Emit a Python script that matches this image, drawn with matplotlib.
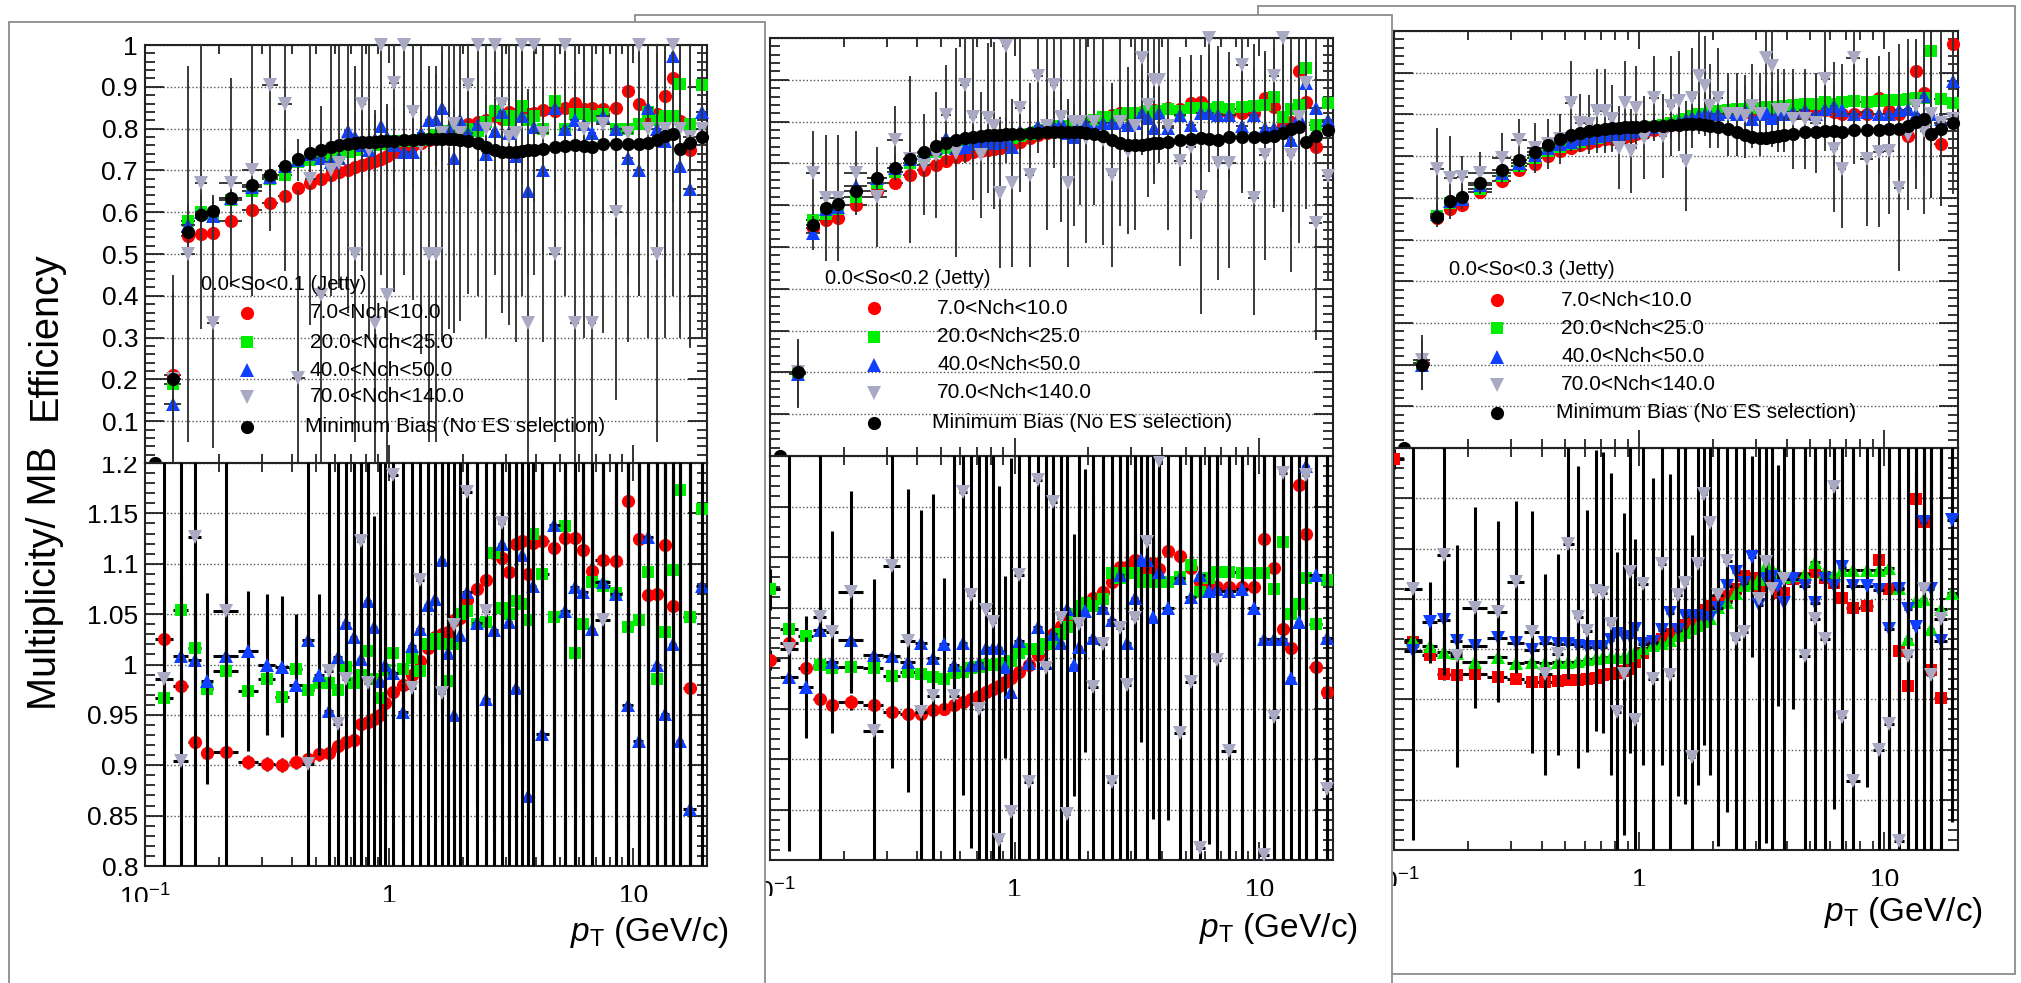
import numpy as np
import matplotlib
matplotlib.use("Agg")
import matplotlib.pyplot as plt
from matplotlib.patches import Rectangle
from matplotlib.ticker import FixedLocator, NullFormatter, FixedFormatter, MultipleLocator, FuncFormatter

plt.rcParams['font.family'] = ['Liberation Sans', 'DejaVu Sans']
plt.rcParams['mathtext.fontset'] = 'custom'
plt.rcParams['mathtext.rm'] = 'Liberation Sans'
plt.rcParams['mathtext.it'] = 'Liberation Sans:italic'
plt.rcParams['mathtext.bf'] = 'Liberation Sans:bold'

nan = float('nan')

# ---------------------------------------------------------------- data
PT_EDGES = [0.1, 0.12, 0.14, 0.16, 0.18, 0.2, 0.25, 0.3, 0.35, 0.4, 0.45, 0.5, 0.55, 0.6, 0.65,
            0.7, 0.75, 0.8, 0.85, 0.9, 0.95, 1.0, 1.1, 1.2, 1.3, 1.4, 1.5, 1.6, 1.7, 1.8, 1.9,
            2.0, 2.2, 2.4, 2.6, 2.8, 3.0, 3.2, 3.4, 3.6, 3.8, 4.0, 4.5, 5.0, 5.5, 6.0, 6.5,
            7.0, 8.0, 9.0, 10.0, 11.0, 12.0, 13.0, 14.0, 15.0, 16.0, 18.0, 20.0]
RATIO_PT_SHIFT = 0.01

SO_LABELS = ["0.0<So<0.1 (Jetty)", "0.0<So<0.2 (Jetty)", "0.0<So<0.3 (Jetty)"]
NCH_LABELS = ["7.0<Nch<10.0", "20.0<Nch<25.0", "40.0<Nch<50.0", "70.0<Nch<140.0",
              "Minimum Bias (No ES selection)"]
X_TICKS = [0.1, 1, 10]
X_TICK_LABELS = [r"$10^{-1}$", "1", "10"]
X_MINOR = [0.2, 0.3, 0.4, 0.5, 0.6, 0.7, 0.8, 0.9, 2, 3, 4, 5, 6, 7, 8, 9]
X_TITLE = r"$p_{\mathrm{T}}$ (GeV/c)"
Y_TITLE_TOP = "Efficiency"
Y_TITLE_BOT = "Multiplicity/ MB"

MB_EFF = [
    0.0, 0.20, 0.553, 0.593, 0.602, 0.635, 0.666, 0.69, 0.711, 0.727,
    0.742, 0.75, 0.756, 0.76, 0.763, 0.766, 0.767, 0.768, 0.769, 0.77,
    0.77, 0.771, 0.772, 0.773, 0.774, 0.775, 0.776, 0.776, 0.776, 0.775,
    0.773, 0.77, 0.765, 0.757, 0.75, 0.745, 0.743, 0.744, 0.746, 0.748,
    0.75, 0.752, 0.757, 0.758, 0.76, 0.759, 0.757, 0.762, 0.762, 0.763,
    0.764, 0.766, 0.773, 0.782, 0.788, 0.752, 0.766, 0.78]
MB_EFF_ERR = [
    0.0, 0.06, 0.01, 0.008, 0.006, 0.005, 0.004, 0.004, 0.004, 0.004,
    0.003, 0.003, 0.003, 0.003, 0.003, 0.003, 0.003, 0.003, 0.003, 0.003,
    0.003, 0.003, 0.003, 0.003, 0.003, 0.003, 0.003, 0.003, 0.003, 0.003,
    0.003, 0.003, 0.003, 0.004, 0.004, 0.004, 0.004, 0.004, 0.004, 0.005,
    0.005, 0.005, 0.006, 0.006, 0.007, 0.007, 0.008, 0.008, 0.009, 0.01,
    0.011, 0.012, 0.013, 0.014, 0.015, 0.016, 0.018, 0.02]

# ---- panel 1 : 0.0<So<0.1
EFF1_R = [
    nan, 0.21, 0.542, 0.548, 0.55, 0.578, 0.605, 0.622, 0.638, 0.657,
    0.67, 0.68, 0.688, 0.695, 0.70, 0.707, 0.712, 0.717, 0.722, 0.728,
    0.735, 0.745, 0.752, 0.76, 0.766, 0.772, 0.778, 0.785, 0.79, 0.795,
    0.80, 0.81, 0.815, 0.82, 0.83, 0.822, 0.84, 0.835, 0.838, 0.835,
    0.838, 0.845, 0.843, 0.85, 0.862, 0.846, 0.85, 0.846, 0.85, 0.89,
    0.858, 0.818, 0.834, 0.878, 0.922, 0.818, 0.75, nan]
EFF1_G = [
    nan, 0.19, 0.58, 0.60, 0.59, 0.63, 0.65, 0.68, 0.69, 0.72,
    0.725, 0.73, 0.735, 0.74, 0.745, 0.75, 0.755, 0.76, 0.76, 0.762,
    0.765, 0.77, 0.77, 0.77, 0.772, 0.775, 0.785, 0.79, 0.795, 0.80,
    0.80, 0.80, 0.795, 0.815, 0.843, 0.83, 0.82, 0.83, 0.855, 0.82,
    0.83, 0.80, 0.866, 0.80, 0.835, 0.835, 0.83, 0.835, 0.80, 0.80,
    0.81, 0.84, 0.82, 0.83, 0.83, 0.907, 0.81, 0.905]
EFF1_B = [
    nan, 0.142, 0.57, 0.60, 0.59, 0.635, 0.66, 0.685, 0.71, 0.725,
    0.74, 0.73, 0.72, 0.73, 0.795, 0.78, 0.76, 0.75, 0.775, 0.806,
    0.78, 0.76, 0.745, 0.745, 0.79, 0.82, 0.82, 0.85, 0.80, 0.73,
    0.82, 0.79, 0.81, 0.74, 0.795, 0.84, 0.79, 0.735, 0.83, 0.65,
    0.805, 0.70, 0.85, 0.80, 0.82, 0.81, 0.79, 0.83, 0.80, 0.73,
    0.70, 0.85, 0.80, 0.77, 0.974, 0.71, 0.655, 0.84]
EFF1_Y = [
    nan, 0.20, 0.50, 0.67, 0.335, 0.67, 0.70, 0.905, 0.86, 0.203,
    0.68, 0.403, 0.70, 0.718, 0.76, 0.50, 0.86, 0.75, 0.335, 1.0,
    0.403, 0.91, 1.0, 0.84, 0.76, 0.50, 0.50, 0.79, 0.77, 0.81,
    0.79, 0.904, 1.0, 0.80, 1.0, 0.86, 0.78, 0.79, 1.0, 0.335,
    1.0, 0.79, 0.50, 1.0, 0.335, 0.80, 0.335, 0.81, 0.60, 0.79,
    1.0, 0.80, 0.50, 0.80, 1.0, 0.80, 0.78, 0.80]
EFF1_R_ERR = [
    0, 0.2, 0.03, 0.02, 0.02, 0.02, 0.015, 0.015, 0.015, 0.015,
    0.015, 0.015, 0.015, 0.015, 0.02, 0.02, 0.02, 0.02, 0.02, 0.02,
    0.02, 0.02, 0.02, 0.025, 0.025, 0.025, 0.03, 0.03, 0.03, 0.03,
    0.03, 0.03, 0.035, 0.035, 0.04, 0.04, 0.04, 0.045, 0.05, 0.05,
    0.05, 0.05, 0.06, 0.06, 0.07, 0.07, 0.08, 0.08, 0.09, 0.1,
    0.1, 0.12, 0.12, 0.14, 0.15, 0.15, 0.18, 0]
EFF1_G_ERR = [
    0, 0.05, 0.03, 0.03, 0.03, 0.025, 0.025, 0.02, 0.02, 0.02,
    0.02, 0.02, 0.02, 0.025, 0.025, 0.025, 0.03, 0.03, 0.03, 0.03,
    0.03, 0.03, 0.035, 0.035, 0.04, 0.04, 0.04, 0.045, 0.045, 0.05,
    0.05, 0.05, 0.055, 0.06, 0.06, 0.06, 0.065, 0.07, 0.07, 0.075,
    0.08, 0.08, 0.09, 0.09, 0.1, 0.1, 0.11, 0.12, 0.12, 0.13,
    0.14, 0.15, 0.16, 0.17, 0.18, 0.2, 0.2, 0.22]
EFF1_B_ERR = [
    0, 0.1, 0.05, 0.04, 0.05, 0.04, 0.04, 0.05, 0.04, 0.05,
    0.05, 0.06, 0.05, 0.06, 0.07, 0.06, 0.08, 0.07, 0.07, 0.09,
    0.08, 0.09, 0.1, 0.09, 0.1, 0.12, 0.11, 0.13, 0.12, 0.12,
    0.14, 0.13, 0.15, 0.14, 0.14, 0.16, 0.15, 0.18, 0.16, 0.2,
    0.18, 0.2, 0.2, 0.22, 0.22, 0.24, 0.24, 0.25, 0.26, 0.28,
    0.3, 0.3, 0.32, 0.33, 0.35, 0.35, 0.38, 0.4]
EFF1_Y_ERR = [
    0, 0.25, 0.45, 0.35, 0.30, 0.25, 0.30, 0.35, 0.40, 0.45,
    0.35, 0.45, 0.30, 0.30, 0.40, 0.45, 0.40, 0.45, 0.50, 0.55,
    0.45, 0.50, 0.55, 0.45, 0.50, 0.45, 0.45, 0.50, 0.45, 0.50,
    0.45, 0.50, 0.60, 0.50, 0.55, 0.50, 0.45, 0.50, 0.60, 0.45,
    0.55, 0.50, 0.45, 0.60, 0.45, 0.50, 0.45, 0.50, 0.45, 0.50,
    0.60, 0.50, 0.45, 0.50, 0.60, 0.50, 0.50, 0.50]
RAT1_R = [
    nan, 1.025, 0.979, 0.923, 0.912, 0.913, 0.903, 0.901, 0.90, 0.903,
    0.906, 0.911, 0.912, 0.919, 0.923, 0.925, 0.941, 0.943, 0.946, 0.95,
    0.962, 0.973, 0.98, 0.99, 1.003, 1.016, 1.027, 1.03, 1.032, 1.044,
    1.046, 1.064, 1.075, 1.084, 1.111, 1.106, 1.092, 1.12, 1.123, 1.09,
    1.121, 1.123, 1.116, 1.126, 1.126, 1.114, 1.093, 1.104, 1.103, 1.162,
    1.125, 1.069, 1.07, 1.119, 1.058, nan, 0.977, nan]
RAT1_G = [
    nan, 0.967, 1.054, 1.016, 0.976, 0.994, 0.974, 0.986, 0.968, 0.996,
    0.975, 0.982, 0.982, 0.975, 0.998, 0.982, 0.99, 1.013, 0.986, 0.967,
    0.995, 1.011, 0.996, 1.006, 0.994, 1.02, 1.025, 1.02, 0.984, 1.02,
    1.05, 1.053, 1.04, 1.042, 1.111, 1.056, 1.05, 1.063, 1.06, 1.044,
    1.13, 1.09, 1.047, 1.137, 1.011, 1.04, 1.082, 1.078, 1.071, 1.037,
    1.044, 1.092, 0.986, 1.032, 1.094, 1.173, 1.047, 1.154]
RAT1_B = [
    nan, 0.72, 1.008, 1.004, 0.984, 1.008, 1.013, 1.0, 0.998, 0.98,
    1.024, 0.99, 0.954, 1.007, 1.041, 1.027, 1.005, 1.063, 1.037, 0.984,
    1.0, 0.992, 0.953, 1.018, 1.035, 1.059, 1.065, 1.104, 1.011, 0.95,
    1.029, 1.072, 1.041, 0.966, 1.034, 1.12, 1.042, 0.977, 1.109, 0.869,
    1.078, 0.931, 1.138, 1.053, 1.077, 1.072, 1.035, 1.082, 1.07, 0.96,
    0.924, 1.127, 1.0, 0.951, 1.02, 0.924, 0.857, 1.078]
RAT1_Y = [
    nan, 0.986, 0.904, 1.127, 1.3, 1.053, 1.35, 1.35, 1.3, 0.7,
    0.901, 0.6, 0.994, 0.941, 0.986, 0.7, 1.123, 0.982, 0.5, 1.3,
    0.6, 1.188, 1.3, 0.977, 1.084, 0.7, 0.7, 0.972, 0.75, 1.039,
    1.25, 1.171, 1.3, 1.053, 1.3, 1.14, 1.3, 0.7, 1.3, 0.45,
    1.3, 0.7, 0.66, 1.3, 0.45, 0.7, 0.45, 1.044, 0.78, 0.7,
    1.3, 0.7, 0.65, 1.3, 0.7, 0.7, 0.7, 0.7]
RAT1_R_ERR = [
    0, 0.04, 0.012, 0.01, 0.008, 0.008, 0.007, 0.007, 0.007, 0.007,
    0.007, 0.007, 0.007, 0.008, 0.008, 0.008, 0.008, 0.009, 0.009, 0.009,
    0.01, 0.01, 0.01, 0.011, 0.011, 0.012, 0.012, 0.013, 0.013, 0.014,
    0.015, 0.015, 0.016, 0.018, 0.02, 0.02, 0.022, 0.024, 0.025, 0.027,
    0.03, 0.032, 0.035, 0.04, 0.045, 0.05, 0.055, 0.06, 0.07, 0.08,
    0.09, 0.1, 0.11, 0.12, 0.13, 0, 0.15, 0]
RAT1_G_ERR = [
    0, 0.05, 0.035, 0.03, 0.095, 0.03, 0.06, 0.055, 0.035, 0.05,
    0.03, 0.06, 0.03, 0.035, 0.035, 0.04, 0.04, 0.045, 0.045, 0.05,
    0.05, 0.05, 0.055, 0.055, 0.06, 0.06, 0.065, 0.065, 0.07, 0.07,
    0.075, 0.08, 0.08, 0.085, 0.09, 0.09, 0.1, 0.1, 0.11, 0.11,
    0.12, 0.12, 0.13, 0.14, 0.15, 0.16, 0.17, 0.18, 0.19, 0.2,
    0.22, 0.24, 0.25, 0.27, 0.3, 0.3, 0.32, 0.35]
RAT1_B_ERR = [
    0, 0.1, 0.06, 0.06, 0.06, 0.06, 0.06, 0.07, 0.07, 0.07,
    0.08, 0.08, 0.08, 0.09, 0.09, 0.1, 0.1, 0.1, 0.11, 0.11,
    0.12, 0.12, 0.13, 0.13, 0.14, 0.14, 0.15, 0.15, 0.16, 0.16,
    0.17, 0.18, 0.18, 0.19, 0.2, 0.2, 0.21, 0.22, 0.23, 0.24,
    0.25, 0.26, 0.27, 0.28, 0.3, 0.3, 0.32, 0.33, 0.35, 0.36,
    0.38, 0.4, 0.4, 0.42, 0.45, 0.45, 0.48, 0.5]
RAT1_Y_ERR = [
    0, 0.5, 0.5, 0.5, 0.05, 0.4, 0.1, 0.1, 0.05, 0.05,
    0.5, 0.1, 0.5, 0.5, 0.5, 0.5, 0.5, 0.5, 0.6, 0.5,
    0.6, 0.5, 0.5, 0.5, 0.5, 0.6, 0.6, 0.5, 0.6, 0.5,
    0.6, 0.5, 0.6, 0.5, 0.6, 0.5, 0.6, 0.6, 0.6, 0.8,
    0.6, 0.6, 0.6, 0.6, 0.8, 0.6, 0.8, 0.5, 0.6, 0.6,
    0.6, 0.6, 0.6, 0.6, 0.6, 0.6, 0.6, 0.6]

# ---- panel 2 : 0.0<So<0.2
EFF2_R = [
    nan, 0.20, 0.545, 0.565, 0.57, 0.60, 0.633, 0.653, 0.673, 0.685,
    0.697, 0.705, 0.715, 0.72, 0.727, 0.73, 0.733, 0.735, 0.737, 0.74,
    0.745, 0.752, 0.76, 0.767, 0.772, 0.778, 0.784, 0.788, 0.792, 0.796,
    0.80, 0.805, 0.812, 0.816, 0.82, 0.818, 0.82, 0.824, 0.822, 0.828,
    0.826, 0.832, 0.83, 0.844, 0.848, 0.83, 0.822, 0.818, 0.82, 0.82,
    0.856, 0.836, 0.792, 0.80, 0.92, 0.848, 0.74, nan]
EFF2_G = [
    nan, 0.20, 0.565, 0.58, 0.59, 0.62, 0.653, 0.68, 0.70, 0.717,
    0.728, 0.737, 0.74, 0.745, 0.748, 0.75, 0.752, 0.754, 0.756, 0.758,
    0.76, 0.765, 0.77, 0.775, 0.78, 0.785, 0.79, 0.79, 0.795, 0.80,
    0.80, 0.805, 0.81, 0.81, 0.815, 0.82, 0.82, 0.815, 0.825, 0.82,
    0.825, 0.83, 0.825, 0.832, 0.832, 0.83, 0.835, 0.83, 0.835, 0.838,
    0.84, 0.86, 0.812, 0.83, 0.84, 0.928, 0.792, 0.844]
EFF2_B = [
    nan, 0.195, 0.533, 0.59, 0.595, 0.645, 0.665, 0.69, 0.71, 0.726,
    0.737, 0.76, 0.737, 0.74, 0.746, 0.752, 0.756, 0.748, 0.752, 0.756,
    0.74, 0.777, 0.777, 0.79, 0.794, 0.786, 0.80, 0.772, 0.764, 0.792,
    0.794, 0.788, 0.796, 0.796, 0.80, 0.792, 0.796, 0.82, 0.808, 0.784,
    0.82, 0.784, 0.816, 0.792, 0.82, 0.82, 0.816, 0.816, 0.79, 0.816,
    0.784, 0.784, 0.784, 0.757, 0.81, 0.892, 0.832, 0.804]
EFF2_Y = [
    nan, 0.20, 0.677, 0.617, 0.617, 0.677, 0.62, 0.757, 0.71, 0.697,
    0.72, 0.816, 0.725, 0.888, 0.812, 0.72, 0.808, 0.79, 0.63, 0.98,
    0.653, 0.832, 0.673, 0.908, 0.79, 0.888, 0.81, 0.653, 0.80, 0.80,
    0.76, 0.80, 0.755, 0.673, 0.80, 0.73, 0.79, 0.952, 0.84, 0.90,
    0.90, 0.79, 0.705, 0.74, 0.62, 1.0, 0.70, 0.70, 0.936, 0.617,
    0.72, 0.908, 1.0, 0.72, 0.81, 0.892, 0.557, 0.669]
EFF2_R_ERR = [
    0, 0.06, 0.02, 0.015, 0.015, 0.012, 0.012, 0.01, 0.01, 0.01,
    0.01, 0.01, 0.01, 0.01, 0.01, 0.01, 0.012, 0.012, 0.012, 0.012,
    0.012, 0.013, 0.013, 0.014, 0.014, 0.015, 0.015, 0.016, 0.016, 0.017,
    0.018, 0.018, 0.02, 0.02, 0.022, 0.022, 0.024, 0.025, 0.026, 0.028,
    0.03, 0.032, 0.035, 0.038, 0.04, 0.045, 0.05, 0.05, 0.055, 0.06,
    0.065, 0.07, 0.075, 0.08, 0.09, 0.1, 0.1, 0]
EFF2_G_ERR = [
    0, 0.06, 0.025, 0.02, 0.02, 0.015, 0.015, 0.015, 0.015, 0.015,
    0.015, 0.015, 0.015, 0.016, 0.016, 0.017, 0.017, 0.018, 0.018, 0.019,
    0.02, 0.02, 0.021, 0.022, 0.023, 0.024, 0.025, 0.026, 0.027, 0.028,
    0.03, 0.03, 0.032, 0.034, 0.036, 0.038, 0.04, 0.042, 0.044, 0.046,
    0.05, 0.052, 0.055, 0.06, 0.065, 0.07, 0.075, 0.08, 0.085, 0.09,
    0.1, 0.1, 0.11, 0.12, 0.13, 0.14, 0.15, 0.16]
EFF2_B_ERR = [
    0, 0.08, 0.04, 0.03, 0.03, 0.03, 0.03, 0.03, 0.03, 0.03,
    0.035, 0.035, 0.04, 0.04, 0.045, 0.045, 0.05, 0.05, 0.055, 0.055,
    0.06, 0.06, 0.065, 0.065, 0.07, 0.07, 0.075, 0.075, 0.08, 0.08,
    0.085, 0.085, 0.09, 0.09, 0.095, 0.095, 0.1, 0.1, 0.11, 0.11,
    0.12, 0.12, 0.13, 0.13, 0.14, 0.14, 0.15, 0.15, 0.16, 0.17,
    0.18, 0.19, 0.2, 0.21, 0.22, 0.23, 0.24, 0.25]
EFF2_Y_ERR = [
    0, 0.08, 0.1, 0.15, 0.15, 0.1, 0.12, 0.08, 0.2, 0.12,
    0.15, 0.12, 0.25, 0.12, 0.2, 0.15, 0.18, 0.2, 0.18, 0.25,
    0.2, 0.2, 0.22, 0.15, 0.25, 0.2, 0.25, 0.2, 0.25, 0.2,
    0.25, 0.2, 0.25, 0.22, 0.25, 0.2, 0.25, 0.2, 0.22, 0.25,
    0.2, 0.25, 0.25, 0.22, 0.28, 0.3, 0.28, 0.25, 0.3, 0.28,
    0.25, 0.3, 0.3, 0.28, 0.3, 0.3, 0.28, 0.25]
RAT2_R = [
    0.998, 1.015, 0.99, 0.959, 0.953, 0.956, 0.953, 0.947, 0.945, 0.945,
    0.949, 0.95, 0.953, 0.956, 0.959, 0.962, 0.966, 0.969, 0.972, 0.976,
    0.98, 0.986, 0.993, 1.003, 1.014, 1.024, 1.032, 1.039, 1.043, 1.048,
    1.052, 1.059, 1.065, 1.075, 1.09, 1.09, 1.097, 1.079, 1.088, 1.094,
    1.088, 1.106, 1.101, 1.089, 1.075, 1.074, 1.07, 1.07, 1.07, 1.07,
    1.118, 1.089, 1.029, 1.01, 1.171, 1.123, 0.991, 0.966]
RAT2_G = [
    1.068, 1.029, 1.022, 0.993, 0.99, 0.991, 0.99, 0.982, 0.986, 0.984,
    0.981, 0.979, 0.985, 0.986, 0.99, 0.991, 0.993, 0.993, 0.994, 0.995,
    0.997, 1.005, 1.009, 1.009, 1.014, 1.017, 1.024, 1.031, 1.044, 1.051,
    1.054, 1.051, 1.058, 1.084, 1.079, 1.084, 1.084, 1.075, 1.077, 1.075,
    1.075, 1.075, 1.08, 1.092, 1.065, 1.079, 1.085, 1.085, 1.084, 1.084,
    1.084, 1.068, 1.115, 1.044, 1.053, 1.079, 1.034, 1.077]
RAT2_B = [
    nan, 0.981, 0.971, 1.028, 0.996, 1.018, 1.003, 1.002, 0.996, 1.015,
    1.0, 1.014, 0.993, 1.015, 0.993, 0.995, 1.01, 1.01, 1.01, 0.991,
    0.966, 1.017, 0.995, 1.031, 0.995, 1.024, 1.015, 1.049, 0.993, 1.011,
    1.047, 1.02, 1.05, 1.038, 1.082, 1.015, 1.059, 1.097, 1.097, 1.041,
    1.085, 1.05, 1.079, 1.06, 1.082, 1.066, 1.068, 1.066, 1.068, 1.05,
    1.019, 1.019, 1.019, 0.98, 1.036, 1.19, 1.082, 1.02]
RAT2_Y = [
    nan, 1.009, 0.7, 1.041, 1.026, 1.065, 0.928, 1.091, 1.017, 0.947,
    0.962, 0.7, 0.962, 1.164, 1.062, 0.95, 1.048, 1.036, 0.82, 0.7,
    0.848, 1.082, 0.877, 1.176, 0.99, 1.154, 1.04, 0.846, 1.3, 1.034,
    1.3, 0.971, 1.014, 0.877, 1.03, 0.973, 1.04, 1.3, 1.115, 1.3,
    1.195, 0.7, 0.926, 0.976, 0.812, 1.3, 0.998, 0.908, 1.3, 0.7,
    0.805, 0.942, 1.183, 0.7, 1.3, 1.181, 0.7, 0.87]
RAT2_R_ERR = [
    0.01, 0.03, 0.01, 0.008, 0.007, 0.007, 0.006, 0.006, 0.006, 0.006,
    0.006, 0.006, 0.006, 0.006, 0.007, 0.007, 0.007, 0.007, 0.008, 0.008,
    0.008, 0.008, 0.009, 0.009, 0.01, 0.01, 0.01, 0.011, 0.011, 0.012,
    0.012, 0.013, 0.014, 0.015, 0.016, 0.017, 0.018, 0.019, 0.02, 0.021,
    0.022, 0.024, 0.026, 0.028, 0.03, 0.033, 0.036, 0.04, 0.045, 0.05,
    0.055, 0.06, 0.065, 0.07, 0.08, 0.09, 0.1, 0.1]
RAT2_G_ERR = [
    0.02, 0.04, 0.02, 0.015, 0.012, 0.012, 0.012, 0.012, 0.012, 0.012,
    0.013, 0.013, 0.013, 0.014, 0.014, 0.015, 0.015, 0.016, 0.016, 0.017,
    0.018, 0.018, 0.019, 0.02, 0.021, 0.022, 0.023, 0.024, 0.025, 0.026,
    0.028, 0.03, 0.032, 0.034, 0.036, 0.038, 0.04, 0.042, 0.045, 0.048,
    0.05, 0.055, 0.06, 0.065, 0.07, 0.075, 0.08, 0.09, 0.1, 0.11,
    0.12, 0.13, 0.14, 0.15, 0.16, 0.18, 0.2, 0.22]
RAT2_B_ERR = [
    0, 0.08, 0.05, 0.05, 0.05, 0.05, 0.05, 0.055, 0.055, 0.06,
    0.06, 0.065, 0.065, 0.07, 0.07, 0.075, 0.08, 0.08, 0.085, 0.09,
    0.09, 0.095, 0.1, 0.1, 0.11, 0.11, 0.12, 0.12, 0.13, 0.13,
    0.14, 0.14, 0.15, 0.15, 0.16, 0.17, 0.17, 0.18, 0.19, 0.2,
    0.2, 0.21, 0.22, 0.23, 0.24, 0.25, 0.26, 0.27, 0.28, 0.3,
    0.3, 0.32, 0.34, 0.35, 0.38, 0.4, 0.42, 0.45]
RAT2_Y_ERR = [
    0, 0.2, 0.1, 0.25, 0.1, 0.1, 0.15, 0.2, 0.15, 0.2,
    0.2, 0.1, 0.25, 0.3, 0.25, 0.3, 0.3, 0.3, 0.35, 0.1,
    0.35, 0.35, 0.35, 0.4, 0.4, 0.4, 0.4, 0.4, 0.1, 0.4,
    0.1, 0.4, 0.4, 0.4, 0.45, 0.4, 0.45, 0.1, 0.45, 0.1,
    0.45, 0.1, 0.45, 0.5, 0.5, 0.1, 0.5, 0.5, 0.1, 0.1,
    0.5, 0.5, 0.5, 0.1, 0.1, 0.5, 0.1, 0.5]

# ---- panel 3 : 0.0<So<0.3
EFF3_R = [
    nan, 0.204, 0.552, 0.572, 0.582, 0.614, 0.64, 0.666, 0.682, 0.70,
    0.712, 0.72, 0.726, 0.732, 0.736, 0.74, 0.742, 0.744, 0.746, 0.748,
    0.752, 0.756, 0.762, 0.768, 0.774, 0.78, 0.784, 0.788, 0.792, 0.795,
    0.798, 0.802, 0.805, 0.81, 0.806, 0.80, 0.805, 0.803, 0.80, 0.80,
    0.80, 0.80, 0.802, 0.805, 0.81, 0.806, 0.80, 0.80, 0.80, 0.84,
    0.808, 0.80, 0.748, 0.904, 0.852, 0.752, 0.73, 0.968]
EFF3_G = [
    nan, 0.20, 0.556, 0.588, 0.595, 0.622, 0.652, 0.676, 0.696, 0.712,
    0.722, 0.73, 0.735, 0.74, 0.744, 0.748, 0.75, 0.752, 0.754, 0.756,
    0.76, 0.765, 0.77, 0.775, 0.78, 0.785, 0.79, 0.795, 0.80, 0.802,
    0.805, 0.808, 0.81, 0.812, 0.814, 0.815, 0.816, 0.818, 0.815, 0.818,
    0.82, 0.822, 0.825, 0.826, 0.83, 0.826, 0.83, 0.832, 0.83, 0.832,
    0.834, 0.835, 0.836, 0.84, 0.84, 0.952, 0.836, 0.828]
EFF3_B = [
    nan, 0.20, 0.56, 0.592, 0.598, 0.63, 0.66, 0.683, 0.703, 0.72,
    0.73, 0.735, 0.74, 0.744, 0.748, 0.75, 0.752, 0.754, 0.756, 0.758,
    0.76, 0.765, 0.77, 0.775, 0.78, 0.785, 0.79, 0.794, 0.798, 0.80,
    0.80, 0.80, 0.805, 0.80, 0.81, 0.79, 0.80, 0.805, 0.792, 0.80,
    0.80, 0.805, 0.81, 0.80, 0.812, 0.82, 0.81, 0.80, 0.805, 0.80,
    0.80, 0.81, 0.812, 0.80, 0.844, 0.80, 0.79, 0.88]
EFF3_Y = [
    nan, 0.21, 0.668, 0.648, 0.65, 0.66, 0.696, 0.738, 0.72, 0.73,
    0.74, 0.828, 0.78, 0.776, 0.808, 0.808, 0.79, 0.72, 0.828, 0.712,
    0.816, 0.744, 0.84, 0.748, 0.82, 0.832, 0.688, 0.84, 0.892, 0.868,
    0.82, 0.84, 0.80, 0.80, 0.795, 0.82, 0.80, 0.936, 0.916, 0.81,
    0.81, 0.79, 0.79, 0.78, 0.884, 0.716, 0.668, 0.936, 0.692, 0.71,
    0.712, 0.624, 0.75, 0.82, 0.76, 0.80, 0.78, 0.79]
EFF3_R_ERR = [
    0, 0.05, 0.015, 0.012, 0.01, 0.01, 0.008, 0.008, 0.008, 0.008,
    0.008, 0.008, 0.008, 0.008, 0.008, 0.008, 0.009, 0.009, 0.009, 0.009,
    0.01, 0.01, 0.01, 0.011, 0.011, 0.012, 0.012, 0.013, 0.013, 0.014,
    0.014, 0.015, 0.016, 0.017, 0.018, 0.019, 0.02, 0.021, 0.022, 0.023,
    0.025, 0.027, 0.03, 0.032, 0.035, 0.038, 0.04, 0.045, 0.05, 0.055,
    0.06, 0.065, 0.07, 0.075, 0.08, 0.09, 0.1, 0.1]
EFF3_G_ERR = [
    0, 0.05, 0.015, 0.012, 0.012, 0.01, 0.01, 0.01, 0.01, 0.01,
    0.01, 0.01, 0.01, 0.01, 0.011, 0.011, 0.011, 0.012, 0.012, 0.012,
    0.013, 0.013, 0.014, 0.014, 0.015, 0.015, 0.016, 0.016, 0.017, 0.018,
    0.018, 0.019, 0.02, 0.021, 0.022, 0.023, 0.024, 0.025, 0.027, 0.028,
    0.03, 0.032, 0.035, 0.038, 0.04, 0.045, 0.05, 0.055, 0.06, 0.065,
    0.07, 0.075, 0.08, 0.09, 0.1, 0.11, 0.12, 0.13]
EFF3_B_ERR = [
    0, 0.06, 0.03, 0.025, 0.025, 0.02, 0.02, 0.02, 0.02, 0.02,
    0.02, 0.022, 0.022, 0.024, 0.024, 0.026, 0.026, 0.028, 0.028, 0.03,
    0.03, 0.032, 0.034, 0.036, 0.038, 0.04, 0.042, 0.044, 0.046, 0.048,
    0.05, 0.052, 0.055, 0.058, 0.06, 0.062, 0.065, 0.068, 0.07, 0.075,
    0.08, 0.085, 0.09, 0.095, 0.1, 0.105, 0.11, 0.12, 0.13, 0.14,
    0.15, 0.16, 0.17, 0.18, 0.19, 0.2, 0.21, 0.22]
EFF3_Y_ERR = [
    0, 0.06, 0.1, 0.1, 0.05, 0.05, 0.06, 0.05, 0.06, 0.06,
    0.06, 0.1, 0.07, 0.07, 0.1, 0.1, 0.08, 0.1, 0.1, 0.1,
    0.1, 0.1, 0.1, 0.1, 0.12, 0.12, 0.12, 0.12, 0.12, 0.12,
    0.1, 0.12, 0.1, 0.1, 0.1, 0.1, 0.1, 0.12, 0.12, 0.1,
    0.1, 0.12, 0.12, 0.12, 0.14, 0.15, 0.14, 0.16, 0.16, 0.18,
    0.15, 0.2, 0.18, 0.15, 0.2, 0.2, 0.2, 0.18]
RAT3_R = [
    1.189, 1.007, 0.994, 0.975, 0.974, 0.975, 0.972, 0.97, 0.967, 0.967,
    0.968, 0.969, 0.969, 0.97, 0.971, 0.974, 0.975, 0.976, 0.978, 0.98,
    0.987, 0.996, 1.005, 1.01, 1.015, 1.02, 1.024, 1.029, 1.034, 1.039,
    1.043, 1.048, 1.053, 1.06, 1.073, 1.071, 1.063, 1.066, 1.07, 1.056,
    1.056, 1.07, 1.071, 1.077, 1.071, 1.066, 1.051, 1.041, 1.043, 1.089,
    1.06, 0.998, 0.963, 1.149, 1.126, 0.979, 0.951, nan]
RAT3_G = [
    nan, 1.009, 1.003, 0.997, 0.996, 0.987, 0.992, 0.986, 0.987, 0.986,
    0.987, 0.987, 0.988, 0.99, 0.991, 0.992, 0.992, 0.992, 0.992, 0.994,
    0.997, 1.001, 1.004, 1.006, 1.009, 1.014, 1.017, 1.021, 1.024, 1.028,
    1.031, 1.042, 1.047, 1.056, 1.064, 1.066, 1.07, 1.084, 1.08, 1.077,
    1.072, 1.074, 1.075, 1.087, 1.077, 1.074, 1.079, 1.079, 1.079, 1.079,
    1.081, 1.061, 1.01, 1.048, 1.05, 1.02, 1.04, 1.056]
RAT3_B = [
    nan, 0.998, 1.027, 1.029, 1.008, 1.003, 1.011, 1.006, 0.999, 1.006,
    1.005, 1.005, 1.003, 1.002, 1.002, 1.002, 1.009, 1.015, 1.012, 1.012,
    1.02, 1.005, 1.007, 1.019, 1.036, 1.019, 1.033, 1.033, 1.033, 1.031,
    1.031, 1.041, 1.063, 1.077, 1.066, 1.092, 1.044, 1.07, 1.072, 1.063,
    1.046, 1.07, 1.063, 1.046, 1.07, 1.063, 1.082, 1.063, 1.063, 1.059,
    1.02, 1.06, 1.04, 1.022, 1.126, 1.06, 1.008, 1.128]
RAT3_Y = [
    nan, 1.06, 0.7, 1.094, 0.993, 1.041, 1.037, 1.067, 1.017, 0.975,
    0.995, 1.104, 1.032, 1.018, 1.058, 1.056, 1.025, 0.937, 0.975, 1.077,
    0.929, 1.065, 0.97, 1.085, 0.974, 1.054, 1.066, 0.893, 1.085, 1.154,
    1.125, 1.054, 1.088, 1.01, 1.017, 1.3, 1.05, 1.087, 1.06, 1.3,
    1.07, 0.7, 0.993, 1.03, 1.01, 1.161, 0.932, 0.869, 1.3, 0.9,
    0.925, 0.809, 0.993, 1.3, 1.06, 0.974, 1.03, 0.7]
RAT3_R_ERR = [
    0.01, 0.02, 0.008, 0.006, 0.006, 0.005, 0.005, 0.005, 0.005, 0.005,
    0.005, 0.005, 0.005, 0.005, 0.005, 0.005, 0.005, 0.006, 0.006, 0.006,
    0.006, 0.006, 0.007, 0.007, 0.007, 0.008, 0.008, 0.008, 0.009, 0.009,
    0.01, 0.01, 0.011, 0.012, 0.013, 0.014, 0.015, 0.016, 0.017, 0.018,
    0.02, 0.022, 0.024, 0.026, 0.028, 0.03, 0.033, 0.036, 0.04, 0.045,
    0.05, 0.055, 0.06, 0.065, 0.07, 0.08, 0.09, 0]
RAT3_G_ERR = [
    0, 0.03, 0.012, 0.01, 0.009, 0.008, 0.008, 0.008, 0.008, 0.008,
    0.008, 0.008, 0.008, 0.009, 0.009, 0.009, 0.009, 0.01, 0.01, 0.01,
    0.011, 0.011, 0.012, 0.012, 0.013, 0.013, 0.014, 0.015, 0.016, 0.017,
    0.018, 0.019, 0.02, 0.022, 0.024, 0.026, 0.028, 0.03, 0.032, 0.034,
    0.036, 0.04, 0.045, 0.05, 0.055, 0.06, 0.065, 0.07, 0.08, 0.09,
    0.1, 0.11, 0.12, 0.13, 0.14, 0.15, 0.16, 0.18]
RAT3_B_ERR = [
    0, 0.06, 0.04, 0.035, 0.03, 0.03, 0.03, 0.03, 0.03, 0.03,
    0.035, 0.035, 0.035, 0.04, 0.04, 0.04, 0.045, 0.045, 0.05, 0.05,
    0.055, 0.055, 0.06, 0.06, 0.065, 0.07, 0.07, 0.075, 0.08, 0.08,
    0.085, 0.09, 0.09, 0.095, 0.1, 0.1, 0.11, 0.11, 0.12, 0.12,
    0.13, 0.13, 0.14, 0.15, 0.16, 0.17, 0.18, 0.19, 0.2, 0.21,
    0.22, 0.23, 0.24, 0.25, 0.26, 0.27, 0.28, 0.3]
RAT3_Y_ERR = [
    0, 0.25, 0.1, 0.12, 0.11, 0.1, 0.09, 0.08, 0.12, 0.1,
    0.1, 0.12, 0.15, 0.12, 0.14, 0.14, 0.15, 0.16, 0.16, 0.18,
    0.18, 0.18, 0.2, 0.2, 0.2, 0.2, 0.22, 0.22, 0.22, 0.25,
    0.25, 0.25, 0.25, 0.25, 0.25, 0.1, 0.28, 0.28, 0.28, 0.1,
    0.3, 0.1, 0.3, 0.3, 0.3, 0.32, 0.32, 0.35, 0.1, 0.35,
    0.35, 0.35, 0.38, 0.1, 0.4, 0.4, 0.4, 0.1]

PANEL_EFF = [
    [EFF1_R, EFF1_G, EFF1_B, EFF1_Y, MB_EFF],
    [EFF2_R, EFF2_G, EFF2_B, EFF2_Y, MB_EFF],
    [EFF3_R, EFF3_G, EFF3_B, EFF3_Y, MB_EFF]]
PANEL_EFF_ERR = [
    [EFF1_R_ERR, EFF1_G_ERR, EFF1_B_ERR, EFF1_Y_ERR, MB_EFF_ERR],
    [EFF2_R_ERR, EFF2_G_ERR, EFF2_B_ERR, EFF2_Y_ERR, MB_EFF_ERR],
    [EFF3_R_ERR, EFF3_G_ERR, EFF3_B_ERR, EFF3_Y_ERR, MB_EFF_ERR]]
PANEL_RAT = [
    [RAT1_R, RAT1_G, RAT1_B, RAT1_Y],
    [RAT2_R, RAT2_G, RAT2_B, RAT2_Y],
    [RAT3_R, RAT3_G, RAT3_B, RAT3_Y]]
PANEL_RAT_ERR = [
    [RAT1_R_ERR, RAT1_G_ERR, RAT1_B_ERR, RAT1_Y_ERR],
    [RAT2_R_ERR, RAT2_G_ERR, RAT2_B_ERR, RAT2_Y_ERR],
    [RAT3_R_ERR, RAT3_G_ERR, RAT3_B_ERR, RAT3_Y_ERR]]

# ---------------------------------------------------------------- style / layout
W, H = 2021, 983
COLORS = ['#ff0000', '#00ee00', '#1040ff', '#a9a9c3', '#000000']
TOP_MARKERS = ['o', 's', '^', 'v', 'o']
RAT_MARKERS = [['o', 's', '^', 'v'], ['o', 's', '^', 'v'], ['s', '^', 'v', 'v']]
MSIZE = {'o': 9.5, 's': 8.3, '^': 10.0, 'v': 10.0}
ERR_TOP = '#333333'
ERR_BOT = '#000000'

CANVASES = [(9, 22, 765, 1012), (635, 15, 1392, 1012), (1258, 6, 2015, 974)]
TOP_AX = [(145, 45, 707, 463), (770, 38, 1333, 456), (1394, 31, 1958, 448)]
BOT_AX = [(145, 463, 707, 866), (770, 456, 1333, 860), (1394, 448, 1958, 850)]
LEGEND = [  # header (x,y), marker x, text x, mb text x, row ys
    dict(hx=201, hy=285, mx=247, tx=310, tmb=305, rows=[313, 342, 370, 397, 427]),
    dict(hx=825, hy=278, mx=874, tx=937, tmb=932, rows=[308, 337, 365, 393, 423]),
    dict(hx=1449, hy=270, mx=1497, tx=1561, tmb=1556, rows=[300, 328, 357, 385, 413])]
XTITLE_POS = [(729, 933), (1358, 928), (1983, 913)]
LABEL_CLIP_BELOW = 36


def fx(x):
    return x / W


def fy(y):
    return 1 - y / H


def ax_rect(b):
    l, t, r, bt = b
    return [fx(l), fy(bt), (r - l) / W, (bt - t) / H]


def as_arr(name, v):
    a = np.asarray(v, dtype=float)
    if a.size != 58:
        raise ValueError(f"{name} has {a.size} values")
    return a


edges = np.asarray(PT_EDGES)
pt = 0.5 * (edges[:-1] + edges[1:])
pt_half = 0.5 * (edges[1:] - edges[:-1])
pt_ratio = pt - RATIO_PT_SHIFT


def style_axes(ax, kind):
    ax.set_xscale('log')
    ax.set_xlim(0.1, 20)
    ax.xaxis.set_major_locator(FixedLocator(X_TICKS))
    ax.xaxis.set_minor_locator(FixedLocator(X_MINOR))
    ax.xaxis.set_minor_formatter(NullFormatter())
    if kind == 'top':
        ax.set_ylim(0, 1.0)
        ax.yaxis.set_major_locator(MultipleLocator(0.1))
        ax.yaxis.set_minor_locator(MultipleLocator(0.02))
        ax.yaxis.set_major_formatter(FuncFormatter(
            lambda v, p: '' if abs(v) < 1e-9 else f"{round(v, 3):g}"))
        ax.xaxis.set_major_formatter(NullFormatter())
    else:
        ax.set_ylim(0.8, 1.2)
        ax.yaxis.set_major_locator(MultipleLocator(0.05))
        ax.yaxis.set_minor_locator(MultipleLocator(0.01))
        ax.yaxis.set_major_formatter(FuncFormatter(lambda v, p: f"{round(v, 3):g}"))
        ax.xaxis.set_major_formatter(FixedFormatter(X_TICK_LABELS))
    ax.tick_params(which='both', direction='in', top=True, right=True,
                   width=1.2, color='#111111', labelsize=19)
    ax.tick_params(axis='y', which='major', length=14, pad=5)
    ax.tick_params(axis='y', which='minor', length=7)
    ax.tick_params(axis='x', which='major', length=13, pad=13)
    ax.tick_params(axis='x', which='minor', length=6.5)
    ax.yaxis.grid(True, which='major', linestyle=(0, (1, 1.6)), color='#555555', lw=1.0)
    ax.set_axisbelow('line')
    for s in ax.spines.values():
        s.set_linewidth(1.5)
        s.set_color('#222222')
    ax.set_facecolor('white')


fig = plt.figure(figsize=(W / 100, H / 100), dpi=100)
fig.patch.set_facecolor('white')

for i, z in [(2, 1), (1, 3), (0, 5)]:
    cl, ct, cr, cb = CANVASES[i]
    fig.add_artist(Rectangle((fx(cl), fy(cb)), (cr - cl) / W, (cb - ct) / H,
                             transform=fig.transFigure, facecolor='white',
                             edgecolor='#8c8c8c', lw=1.3, zorder=z))
    axT = fig.add_axes(ax_rect(TOP_AX[i]), zorder=z + 0.2)
    axB = fig.add_axes(ax_rect(BOT_AX[i]), zorder=z + 0.4)

    # efficiency pad
    for k in range(5):
        y = as_arr(f"eff{i}{k}", PANEL_EFF[i][k])
        e = as_arr(f"efferr{i}{k}", PANEL_EFF_ERR[i][k])
        axT.errorbar(pt, y, yerr=e, xerr=pt_half, fmt='none', ecolor=ERR_TOP,
                     elinewidth=1.35, capsize=0, zorder=2 + 2 * k)
        m = TOP_MARKERS[k]
        axT.plot(pt, y, ls='none', marker=m, ms=MSIZE[m], mfc=COLORS[k], mec=COLORS[k],
                 mew=0, clip_on=False, zorder=3 + 2 * k)
    style_axes(axT, 'top')

    # ratio pad
    for k in range(4):
        y = as_arr(f"rat{i}{k}", PANEL_RAT[i][k])
        e = as_arr(f"raterr{i}{k}", PANEL_RAT_ERR[i][k])
        axB.errorbar(pt_ratio, y, yerr=e, xerr=pt_half, fmt='none', ecolor=ERR_BOT,
                     elinewidth=2.2, capsize=0, zorder=2 + 2 * k)
        m = RAT_MARKERS[i][k]
        axB.plot(pt_ratio, y, ls='none', marker=m, ms=MSIZE[m], mfc=COLORS[k],
                 mec=COLORS[k], mew=0, zorder=3 + 2 * k)
    style_axes(axB, 'bot')

    # legend
    lg = LEGEND[i]
    axT.text(fx(lg['hx']), fy(lg['hy']), SO_LABELS[i], transform=fig.transFigure,
             ha='left', va='center', fontsize=14.5, zorder=30)
    for k in range(5):
        m = TOP_MARKERS[k]
        axT.plot([fx(lg['mx'])], [fy(lg['rows'][k])], transform=fig.transFigure,
                 ls='none', marker=m, ms=MSIZE[m], mfc=COLORS[k], mec=COLORS[k], mew=0,
                 clip_on=False, zorder=30)
        tx = lg['tmb'] if k == 4 else lg['tx']
        axT.text(fx(tx), fy(lg['rows'][k]), NCH_LABELS[k], transform=fig.transFigure,
                 ha='left', va='center', fontsize=15, zorder=30)

    # white band that hides the lower part of the x tick labels
    clip_y = BOT_AX[i][3] + LABEL_CLIP_BELOW
    fig.add_artist(Rectangle((fx(cl + 3), fy(cb - 3)), (cr - cl - 6) / W, (cb - 3 - clip_y) / H,
                             transform=fig.transFigure, facecolor='white', edgecolor='none',
                             zorder=z + 0.6))
    xt = XTITLE_POS[i]
    fig.text(fx(xt[0]), fy(xt[1]), X_TITLE, ha='right', va='center', fontsize=24,
             zorder=z + 0.8)

    if i == 0:
        # upper pad hides the top of the "1.2" label
        axB.add_artist(Rectangle((fx(12), fy(457)), (141 - 12) / W, 17 / H,
                                 transform=fig.transFigure, facecolor='white',
                                 edgecolor='none', zorder=50, clip_on=False))
        fig.text(fx(45), fy(336), Y_TITLE_TOP, rotation=90, ha='center', va='center',
                 fontsize=28.5, zorder=z + 0.8)
        fig.text(fx(45), fy(578), Y_TITLE_BOT, rotation=90, ha='center', va='center',
                 fontsize=28.5, zorder=z + 0.8)

fig.savefig('out.png', dpi=100, facecolor='white')
